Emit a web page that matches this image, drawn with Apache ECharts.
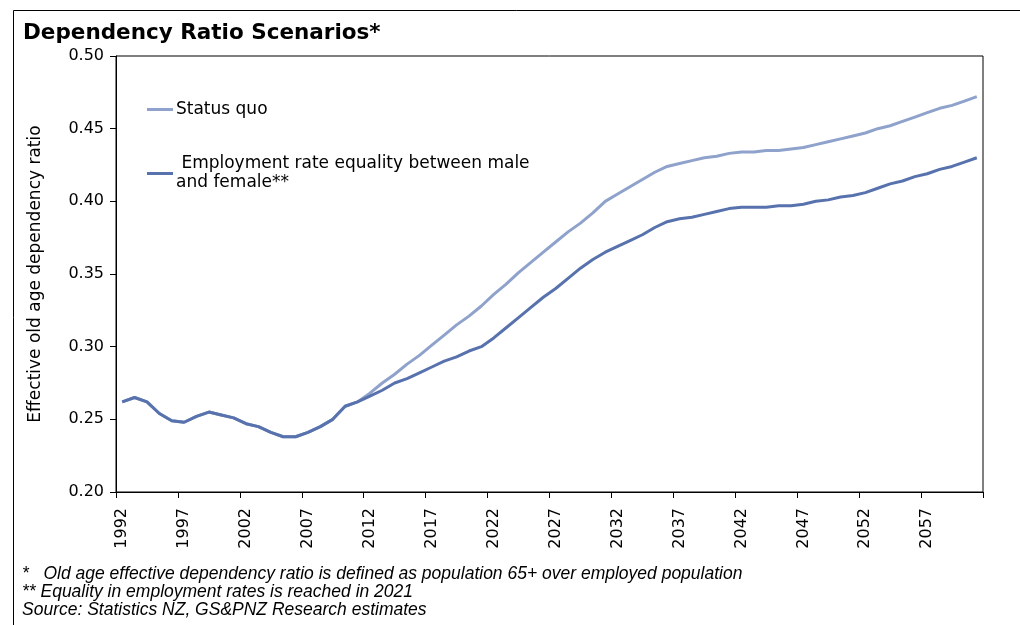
<!DOCTYPE html>
<html>
<head>
<meta charset="utf-8">
<script src="https://cdn.jsdelivr.net/npm/echarts@6/dist/echarts.min.js"></script>
<style>html,body{margin:0;padding:0;background:#fff;}#c{width:1020px;height:625px;}</style>
</head>
<body>
<div id="c"></div>
<script>
var years = [];
for (var y = 1992; y <= 2061; y++) years.push(String(y));

var statusQuo = [
  0.262, 0.265, 0.262, 0.254, 0.249, 0.248, 0.252, 0.255, 0.253, 0.251,
  0.247, 0.245, 0.241, 0.238, 0.238, 0.241, 0.245, 0.250, 0.259, 0.262,
  0.268, 0.275, 0.281, 0.288, 0.294, 0.301, 0.308, 0.315, 0.321, 0.328,
  0.336, 0.343, 0.351, 0.358, 0.365, 0.372, 0.379, 0.385, 0.392, 0.400,
  0.405, 0.410, 0.415, 0.420, 0.424, 0.426, 0.428, 0.430, 0.431, 0.433,
  0.434, 0.434, 0.435, 0.435, 0.436, 0.437, 0.439, 0.441, 0.443, 0.445,
  0.447, 0.450, 0.452, 0.455, 0.458, 0.461, 0.464, 0.466, 0.469, 0.472
];
var employmentEquality = [
  0.262, 0.265, 0.262, 0.254, 0.249, 0.248, 0.252, 0.255, 0.253, 0.251,
  0.247, 0.245, 0.241, 0.238, 0.238, 0.241, 0.245, 0.250, 0.259, 0.262,
  0.266, 0.270, 0.275, 0.278, 0.282, 0.286, 0.290, 0.293, 0.297, 0.300,
  0.306, 0.313, 0.320, 0.327, 0.334, 0.340, 0.347, 0.354, 0.360, 0.365,
  0.369, 0.373, 0.377, 0.382, 0.386, 0.388, 0.389, 0.391, 0.393, 0.395,
  0.396, 0.396, 0.396, 0.397, 0.397, 0.398, 0.400, 0.401, 0.403, 0.404,
  0.406, 0.409, 0.412, 0.414, 0.417, 0.419, 0.422, 0.424, 0.427, 0.430
];

var seriesNames = ['Status quo', ' Employment rate equality between male and female**'];
var titleText = 'Dependency Ratio Scenarios*';
var yAxisName = 'Effective old age dependency ratio';
var footnotes = [
  '*   Old age effective dependency ratio is defined as population 65+ over employed population',
  '** Equality in employment rates is reached in 2021',
  'Source: Statistics NZ, GS&PNZ Research estimates'
];

var colorSQ = '#8fa2cc';
var colorEE = '#5872ad';
var font = 'DejaVu Sans';
var noteFont = 'Liberation Sans';

var chart = echarts.init(document.getElementById('c'), null, {renderer: 'canvas'});
chart.setOption({
  backgroundColor: '#fff',
  animation: false,
  title: {
    text: titleText, left: 18, top: 17,
    textStyle: {fontFamily: font, fontSize: 21.5, fontWeight: 'bold', color: '#000'}
  },
  legend: [
    {
      data: [seriesNames[0]], orient: 'vertical', left: 142, top: 96,
      icon: 'rect', itemWidth: 26, itemHeight: 3, itemGap: 0,
      textStyle: {fontFamily: font, fontSize: 17, color: '#000', padding: [0, 0, 0, -2]},
      selectedMode: false
    },
    {
      data: [seriesNames[1]], orient: 'vertical', left: 142, top: 140,
      icon: 'rect', itemWidth: 26, itemHeight: 3, itemGap: 0,
      formatter: function (n) { return n.replace(' between male and ', ' between male\nand '); },
      textStyle: {fontFamily: font, fontSize: 17, color: '#000', lineHeight: 19, padding: [19, 0, 0, -2]},
      selectedMode: false
    }
  ],
  grid: {left: 116, right: 37, top: 56, bottom: 133, show: true, borderColor: '#000', borderWidth: 1, backgroundColor: '#fff'},
  xAxis: {
    type: 'category', data: years, boundaryGap: true,
    axisLine: {lineStyle: {color: '#000', width: 1}},
    axisTick: {show: true, interval: 4, length: 6, lineStyle: {color: '#000'}},
    axisLabel: {interval: 4, rotate: 90, fontFamily: font, fontSize: 16, color: '#000', margin: 16},
    splitLine: {show: false}
  },
  yAxis: {
    type: 'value', min: 0.2, max: 0.5, interval: 0.05,
    name: yAxisName, nameLocation: 'middle', nameGap: 72,
    nameTextStyle: {fontFamily: font, fontSize: 17, color: '#000'},
    axisLine: {show: true, lineStyle: {color: '#000', width: 1}},
    axisTick: {show: true, length: 6, lineStyle: {color: '#000'}},
    axisLabel: {fontFamily: font, fontSize: 16, color: '#000', margin: 12,
      formatter: function (v) { return v.toFixed(2); }},
    splitLine: {show: false}
  },
  series: [
    {name: seriesNames[0], type: 'line', data: statusQuo, symbol: 'none', z: 2,
      lineStyle: {color: colorSQ, width: 3}, itemStyle: {color: colorSQ}},
    {name: seriesNames[1], type: 'line', data: employmentEquality, symbol: 'none', z: 3,
      lineStyle: {color: colorEE, width: 3}, itemStyle: {color: colorEE}}
  ],
  graphic: [
    {type: 'line', shape: {x1: 13.5, y1: 10.5, x2: 1020, y2: 10.5}, style: {stroke: '#000', lineWidth: 1}},
    {type: 'line', shape: {x1: 13.5, y1: 10.5, x2: 13.5, y2: 625}, style: {stroke: '#000', lineWidth: 1}},
    {type: 'text', left: 22, top: 565, style: {text: footnotes[0], fontFamily: noteFont, fontStyle: 'italic', fontSize: 17.5, fill: '#000'}},
    {type: 'text', left: 22, top: 583, style: {text: footnotes[1], fontFamily: noteFont, fontStyle: 'italic', fontSize: 17.5, fill: '#000'}},
    {type: 'text', left: 22, top: 601, style: {text: footnotes[2], fontFamily: noteFont, fontStyle: 'italic', fontSize: 17.5, fill: '#000'}}
  ]
});
</script>
</body>
</html>
